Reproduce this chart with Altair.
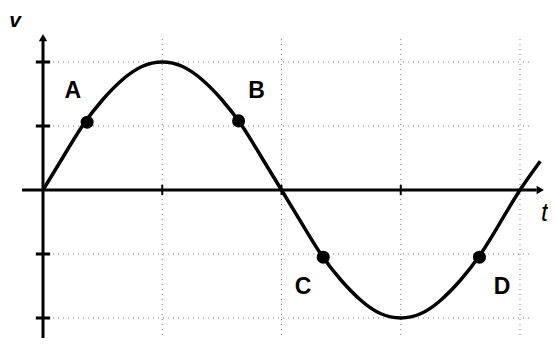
import altair as alt
import pandas as pd

curve_t = [0, 0.17, 0.33, 0.5, 0.67, 0.83, 1.0, 1.17, 1.33, 1.5, 1.67, 1.83, 2.0,
           2.17, 2.33, 2.5, 2.67, 2.83, 3.0, 3.17, 3.33, 3.5, 3.67, 3.83, 4.0, 4.17]
curve_v = [0, 0.52, 1.0, 1.41, 1.73, 1.93, 2.0, 1.93, 1.73, 1.41, 1.0, 0.52, 0,
           -0.52, -1.0, -1.41, -1.73, -1.93, -2.0, -1.93, -1.73, -1.41, -1.0, -0.52, 0, 0.45]

point_names = ["A", "B", "C", "D"]
point_t = [0.37, 1.64, 2.35, 3.66]
point_v = [1.06, 1.08, -1.05, -1.05]
label_t = [0.25, 1.79, 2.18, 3.85]
label_v = [1.54, 1.54, -1.52, -1.52]

grid_t = [1, 2, 3, 4]
grid_v = [2, 1, -1, -2]

XD = [-0.2935, 4.2348]
YD = [-2.3125, 2.844]
xs = alt.Scale(domain=XD, nice=False, zero=False)
ys = alt.Scale(domain=YD, nice=False, zero=False)


def X(f):
    return alt.X(f, type="quantitative", scale=xs, axis=None)


def Y(f):
    return alt.Y(f, type="quantitative", scale=ys, axis=None)


grid_color = "#777777"
vgrid = alt.Chart(pd.DataFrame({"t": grid_t, "y1": [2.36] * 4, "y2": [YD[0]] * 4})).mark_rule(
    color=grid_color, strokeDash=[1, 4], strokeWidth=1
).encode(x=X("t"), y=Y("y1"), y2="y2")

hgrid = alt.Chart(pd.DataFrame({"v": grid_v, "x1": [0] * 4, "x2": [4.08] * 4})).mark_rule(
    color=grid_color, strokeDash=[1, 4], strokeWidth=1
).encode(y=Y("v"), x=X("x1"), x2="x2")

axes = alt.Chart(pd.DataFrame({
    "x1": [0, -0.176], "x2": [0, 4.14], "y1": [2.36, 0], "y2": [YD[0], 0]
})).mark_rule(color="black", strokeWidth=3).encode(x=X("x1"), x2="x2", y=Y("y1"), y2="y2")

yticks = alt.Chart(pd.DataFrame({"v": grid_v, "x1": [-0.06] * 4, "x2": [0.06] * 4})).mark_rule(
    color="black", strokeWidth=3
).encode(y=Y("v"), x=X("x1"), x2="x2")

xticks = alt.Chart(pd.DataFrame({"t": [1, 2, 3], "y1": [0.08] * 3, "y2": [-0.08] * 3})).mark_rule(
    color="black", strokeWidth=2
).encode(x=X("t"), y=Y("y1"), y2="y2")

arrow_up = alt.Chart(pd.DataFrame({"t": [0], "v": [2.38]})).mark_point(
    shape="triangle-up", filled=True, color="black", size=70, opacity=1
).encode(x=X("t"), y=Y("v"))

arrow_right = alt.Chart(pd.DataFrame({"t": [4.17], "v": [0]})).mark_point(
    shape="triangle-right", filled=True, color="black", size=70, opacity=1
).encode(x=X("t"), y=Y("v"))

curve = alt.Chart(pd.DataFrame({"t": curve_t, "v": curve_v})).mark_line(
    color="black", strokeWidth=3.5, interpolate="natural"
).encode(x=X("t"), y=Y("v"))

points = alt.Chart(pd.DataFrame({"t": point_t, "v": point_v})).mark_point(
    filled=True, color="black", size=170, opacity=1
).encode(x=X("t"), y=Y("v"))

labels = alt.Chart(pd.DataFrame({"t": label_t, "v": label_v, "name": point_names})).mark_text(
    font="Liberation Sans", fontWeight="bold", fontSize=23, color="black",
    align="center", baseline="middle"
).encode(x=X("t"), y=Y("v"), text="name:N")

vlabel = alt.Chart(pd.DataFrame({"t": [-0.235], "v": [2.545], "s": ["v"]})).mark_text(
    font="Liberation Sans", fontStyle="italic", fontWeight="bold", fontSize=21, color="black",
    align="center", baseline="alphabetic"
).encode(x=X("t"), y=Y("v"), text="s:N")

tlabel = alt.Chart(pd.DataFrame({"t": [XD[1]], "v": [-0.36], "s": ["t"]})).mark_text(
    font="Liberation Sans", fontStyle="italic", fontSize=25, color="black",
    align="right", baseline="middle"
).encode(x=X("t"), y=Y("v"), text="s:N")

chart = alt.layer(
    vgrid, hgrid, axes, yticks, xticks, arrow_up, arrow_right, curve, points, labels, vlabel, tlabel
).properties(
    width=540, height=330, padding=0, autosize=alt.AutoSizeParams(type="none"),
    background="white"
).configure_view(stroke=None)

chart.save("out.html", embed_options={"renderer": "svg", "actions": False})
